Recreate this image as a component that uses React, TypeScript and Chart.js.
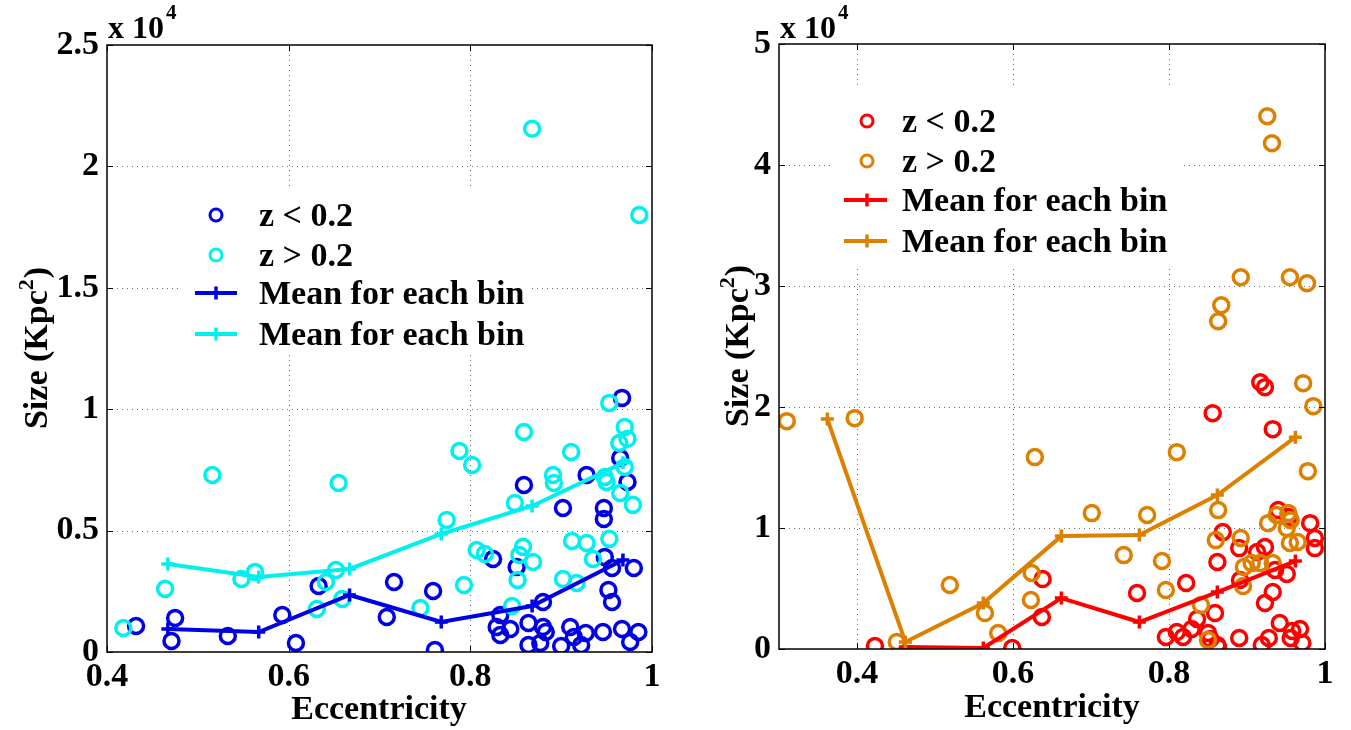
import React, { useEffect, useRef } from "react";
import { Chart, registerables } from "chart.js";

Chart.register(...registerables);

const FONT = '"Liberation Serif", "Times New Roman", serif';

// ---- Left panel: eccentricity vs. size ----
const leftLowX = [0.432, 0.475, 0.471, 0.533, 0.593, 0.608, 0.633, 0.967, 0.965, 0.973, 0.928, 0.859, 0.902, 0.947, 0.947, 0.825, 0.851, 0.948, 0.956, 0.98, 0.716, 0.759, 0.708, 0.952, 0.956, 0.88, 0.761, 0.833, 0.829, 0.844, 0.833, 0.864, 0.88, 0.883, 0.864, 0.877, 0.9, 0.91, 0.914, 0.927, 0.922, 0.946, 0.967, 0.976, 0.985];
const leftLowY = [1071, 1400, 453, 660, 1525, 370, 2720, 10465, 7990, 7000, 7290, 6880, 5930, 5930, 5480, 3830, 3500, 3910, 3460, 3460, 2885, 2513, 1442, 2554, 2060, 2060, 82, 1524, 1030, 947, 700, 1195, 1030, 824, 288, 370, 247, 1030, 618, 783, 288, 824, 947, 412, 824];
const leftHighX = [0.418, 0.464, 0.516, 0.548, 0.563, 0.631, 0.641, 0.652, 0.655, 0.659, 0.953, 0.859, 0.788, 0.802, 0.911, 0.97, 0.973, 0.964, 0.891, 0.892, 0.948, 0.95, 0.97, 0.965, 0.979, 0.849, 0.774, 0.807, 0.816, 0.858, 0.854, 0.869, 0.852, 0.912, 0.928, 0.935, 0.953, 0.902, 0.917, 0.793, 0.745, 0.846, 0.868, 0.986];
const leftHighY = [990, 2600, 7290, 3010, 3300, 1770, 2885, 3380, 6960, 2185, 10260, 9060, 8280, 7700, 8240, 9270, 8780, 8610, 7290, 6960, 7210, 7000, 7620, 6550, 6060, 6140, 5440, 4200, 4040, 4330, 4000, 3710, 2970, 4570, 4490, 3830, 4660, 3010, 2840, 2760, 1813, 1895, 21550, 18000];
const leftBinX = [0.467, 0.567, 0.667, 0.768, 0.868, 0.968];
const leftLowMean = [948, 824, 2348, 1236, 1895, 3790];
const leftHighMean = [3625, 3090, 3420, 4860, 6015, 7790];
const leftXTicks = [0.4, 0.6, 0.8, 1];
const leftYTicks = [0, 5000, 10000, 15000, 20000, 25000];

// ---- Right panel ----
const rightLowX = [0.423, 0.599, 0.638, 0.637, 0.856, 0.933, 0.917, 0.923, 0.869, 0.89, 0.913, 0.923, 0.94, 0.953, 0.981, 0.987, 0.987, 0.862, 0.891, 0.951, 0.936, 0.933, 0.923, 0.759, 0.822, 0.836, 0.859, 0.796, 0.81, 0.818, 0.829, 0.85, 0.853, 0.862, 0.863, 0.89, 0.919, 0.928, 0.942, 0.958, 0.968, 0.956, 0.971];
const rightLowY = [250, 80, 5780, 2640, 19490, 18170, 22050, 21640, 9660, 8340, 8010, 8430, 11480, 10900, 10400, 9170, 8340, 7190, 5700, 6200, 6530, 4710, 3800, 4630, 5450, 2480, 2970, 990, 1400, 990, 1650, 1320, 830, 330, 150, 910, 330, 910, 2150, 1490, 1650, 910, 500];
const rightHighX = [0.31, 0.397, 0.628, 0.519, 0.451, 0.564, 0.581, 0.624, 0.623, 0.81, 0.978, 0.985, 0.972, 0.701, 0.772, 0.863, 0.742, 0.791, 0.796, 0.86, 0.892, 0.841, 0.85, 0.895, 0.896, 0.906, 0.917, 0.933, 0.927, 0.938, 0.953, 0.951, 0.955, 0.965, 0.956, 0.926, 0.932, 0.892, 0.955, 0.977, 0.867, 0.863];
const rightHighY = [18830, 19080, 15860, 5290, 580, 2970, 1320, 6280, 4050, 16270, 14700, 20070, 21970, 11230, 11070, 11480, 7760, 7270, 4870, 9000, 9170, 3630, 740, 5200, 6770, 7100, 7100, 7100, 10400, 11070, 11230, 9990, 8760, 8840, 10650, 44030, 41800, 30730, 30730, 30230, 28410, 27090];
const rightLowBinX = [0.462, 0.562, 0.662, 0.762, 0.862, 0.962];
const rightLowMean = [170, 80, 4210, 2230, 4710, 7270];
const rightHighBinX = [0.362, 0.462, 0.562, 0.662, 0.762, 0.862, 0.962];
const rightHighMean = [19000, 580, 3800, 9330, 9420, 12720, 17510];
const rightXTicks = [0.4, 0.6, 0.8, 1];
const rightYTicks = [0, 10000, 20000, 30000, 40000, 50000];

const legendLabels = ["z < 0.2", "z > 0.2", "Mean for each bin", "Mean for each bin"];

const BLUE = "#0000E6";
const CYAN = "#00F0F0";
const RED = "#FF0000";
const ORANGE = "#DD8000";

const pts = (xs: number[], ys: number[]) => xs.map((x, i) => ({ x, y: ys[i] }));

function scatterSet(label: string, xs: number[], ys: number[], color: string) {
  return {
    label,
    data: pts(xs, ys),
    showLine: false,
    pointStyle: "circle",
    pointRadius: 7.5,
    pointHoverRadius: 7.5,
    pointBorderWidth: 3.5,
    pointBorderColor: color,
    pointBackgroundColor: "rgba(0,0,0,0)",
    borderColor: color,
  };
}

function meanSet(label: string, xs: number[], ys: number[], color: string) {
  return {
    label,
    data: pts(xs, ys),
    showLine: true,
    borderColor: color,
    borderWidth: 4,
    pointStyle: "cross",
    pointRadius: 6.5,
    pointHoverRadius: 6.5,
    pointBorderWidth: 3.5,
    pointBorderColor: color,
    pointBackgroundColor: color,
  };
}

type Spec = {
  width: number;
  height: number;
  area: { left: number; top: number; right: number; bottom: number };
  xMin: number;
  xMax: number;
  xTicks: number[];
  yMax: number;
  yTicks: number[];
  colors: string[];
  datasets: any[];
  legend: { x: number; y: number; w: number; h: number; rows: number[]; markerX: number; lineX1: number; lineX2: number; textX: number };
  yTitle: { x: number; y: number };
  xTitle: { x: number; y: number };
  expo: { x: number; y: number };
};

const leftSpec: Spec = {
  width: 690,
  height: 730,
  area: { left: 107, top: 45, right: 652, bottom: 652 },
  xMin: 0.4,
  xMax: 1,
  xTicks: leftXTicks,
  yMax: 25000,
  yTicks: leftYTicks,
  colors: [BLUE, CYAN],
  datasets: [
    meanSet("Mean for each bin", leftBinX, leftHighMean, CYAN),
    meanSet("Mean for each bin", leftBinX, leftLowMean, BLUE),
    scatterSet("z > 0.2", leftHighX, leftHighY, CYAN),
    scatterSet("z < 0.2", leftLowX, leftLowY, BLUE),
  ],
  legend: { x: 182, y: 186, w: 350, h: 169, rows: [215, 255, 293, 334], markerX: 216, lineX1: 195, lineX2: 237, textX: 259 },
  yTitle: { x: 47, y: 348 },
  xTitle: { x: 379, y: 719 },
  expo: { x: 108, y: 38 },
};

const rightSpec: Spec = {
  width: 661,
  height: 730,
  area: { left: 89, top: 44, right: 635, bottom: 649 },
  xMin: 0.3,
  xMax: 1,
  xTicks: rightXTicks,
  yMax: 50000,
  yTicks: rightYTicks,
  colors: [RED, ORANGE],
  datasets: [
    meanSet("Mean for each bin", rightHighBinX, rightHighMean, ORANGE),
    meanSet("Mean for each bin", rightLowBinX, rightLowMean, RED),
    scatterSet("z > 0.2", rightHighX, rightHighY, ORANGE),
    scatterSet("z < 0.2", rightLowX, rightLowY, RED),
  ],
  legend: { x: 141, y: 89, w: 353, h: 177, rows: [121, 161, 200, 241], markerX: 177, lineX1: 154, lineX2: 197, textX: 212 },
  yTitle: { x: 58, y: 346 },
  xTitle: { x: 362, y: 717 },
  expo: { x: 90, y: 38 },
};

function decorations(spec: Spec) {
  return {
    id: "decorations",
    beforeDatasetsDraw(chart: any) {
      const { ctx, chartArea: a, scales } = chart;
      const xs = scales.x;
      const ys = scales.y;
      ctx.save();
      ctx.strokeStyle = "#6e6e6e";
      ctx.lineWidth = 1;
      ctx.setLineDash([1, 4]);
      for (const v of spec.xTicks) {
        const px = Math.round(xs.getPixelForValue(v)) + 0.5;
        if (px <= a.left + 2 || px >= a.right - 2) continue;
        ctx.beginPath();
        ctx.moveTo(px, a.top);
        ctx.lineTo(px, a.bottom);
        ctx.stroke();
      }
      for (const v of spec.yTicks) {
        const py = Math.round(ys.getPixelForValue(v)) + 0.5;
        if (py <= a.top + 2 || py >= a.bottom - 2) continue;
        ctx.beginPath();
        ctx.moveTo(a.left, py);
        ctx.lineTo(a.right, py);
        ctx.stroke();
      }
      ctx.restore();
    },
    afterDatasetsDraw(chart: any) {
      const { ctx, chartArea: a, scales } = chart;
      const xs = scales.x;
      const ys = scales.y;
      ctx.save();

      // legend box
      const L = spec.legend;
      ctx.fillStyle = "#ffffff";
      ctx.fillRect(L.x, L.y, L.w, L.h);
      const [low, high] = spec.colors;
      const rowColors = [low, high, low, high];
      L.rows.forEach((ry, i) => {
        const c = rowColors[i];
        ctx.strokeStyle = c;
        if (i < 2) {
          ctx.lineWidth = 3;
          ctx.beginPath();
          ctx.arc(L.markerX, ry, 6, 0, Math.PI * 2);
          ctx.stroke();
        } else {
          ctx.lineWidth = 4;
          ctx.beginPath();
          ctx.moveTo(L.lineX1, ry);
          ctx.lineTo(L.lineX2, ry);
          ctx.stroke();
          ctx.lineWidth = 3.5;
          ctx.beginPath();
          ctx.moveTo(L.markerX, ry - 6.5);
          ctx.lineTo(L.markerX, ry + 6.5);
          ctx.stroke();
        }
        ctx.fillStyle = "#000";
        ctx.font = `bold 34px ${FONT}`;
        ctx.textAlign = "left";
        ctx.textBaseline = "alphabetic";
        ctx.fillText(legendLabels[i], L.textX, ry + 11);
      });

      // axes frame with inward ticks
      ctx.strokeStyle = "#000";
      ctx.lineWidth = 1.5;
      ctx.strokeRect(a.left, a.top, a.right - a.left, a.bottom - a.top);
      ctx.lineWidth = 1;
      const tl = 6;
      for (const v of spec.xTicks) {
        const px = Math.round(xs.getPixelForValue(v)) + 0.5;
        ctx.beginPath();
        ctx.moveTo(px, a.bottom);
        ctx.lineTo(px, a.bottom - tl);
        ctx.moveTo(px, a.top);
        ctx.lineTo(px, a.top + tl);
        ctx.stroke();
      }
      for (const v of spec.yTicks) {
        const py = Math.round(ys.getPixelForValue(v)) + 0.5;
        ctx.beginPath();
        ctx.moveTo(a.left, py);
        ctx.lineTo(a.left + tl, py);
        ctx.moveTo(a.right, py);
        ctx.lineTo(a.right - tl, py);
        ctx.stroke();
      }

      // exponent marker above the y axis
      ctx.fillStyle = "#000";
      ctx.textAlign = "left";
      ctx.textBaseline = "alphabetic";
      ctx.font = `bold 32px ${FONT}`;
      ctx.fillText("x 10", spec.expo.x, spec.expo.y);
      const ew = ctx.measureText("x 10").width;
      ctx.font = `bold 21px ${FONT}`;
      ctx.fillText("4", spec.expo.x + ew + 2, spec.expo.y - 19);

      // x axis title
      ctx.font = `bold 34px ${FONT}`;
      ctx.textAlign = "center";
      ctx.fillText("Eccentricity", spec.xTitle.x, spec.xTitle.y);

      // y axis title (rotated), with superscript 2
      ctx.translate(spec.yTitle.x, spec.yTitle.y);
      ctx.rotate(-Math.PI / 2);
      ctx.textAlign = "left";
      ctx.font = `bold 34px ${FONT}`;
      const p1 = "Size (Kpc";
      const p3 = ")";
      const w1 = ctx.measureText(p1).width;
      const w3 = ctx.measureText(p3).width;
      ctx.font = `bold 22px ${FONT}`;
      const w2 = ctx.measureText("2").width;
      const total = w1 + w2 + 1 + w3;
      let u = -total / 2;
      ctx.font = `bold 34px ${FONT}`;
      ctx.fillText(p1, u, 0);
      u += w1;
      ctx.font = `bold 22px ${FONT}`;
      ctx.fillText("2", u, -14);
      u += w2 + 1;
      ctx.font = `bold 34px ${FONT}`;
      ctx.fillText(p3, u, 0);

      ctx.restore();
    },
  };
}

function buildChart(canvas: HTMLCanvasElement, spec: Spec) {
  const tickFont = { family: FONT, size: 34, weight: "bold" as const };
  return new Chart(canvas, {
    type: "scatter",
    data: { datasets: spec.datasets },
    options: {
      responsive: false,
      animation: false,
      events: [],
      layout: {
        padding: { left: 0, top: spec.area.top, right: spec.width - spec.area.right, bottom: 0 },
      },
      plugins: { legend: { display: false }, tooltip: { enabled: false } },
      scales: {
        x: {
          type: "linear",
          min: spec.xMin,
          max: spec.xMax,
          afterBuildTicks: (s: any) => {
            s.ticks = spec.xTicks.map((v) => ({ value: v }));
          },
          afterFit: (s: any) => {
            s.height = spec.height - spec.area.bottom;
          },
          ticks: {
            font: tickFont,
            color: "#000",
            padding: 5,
            maxRotation: 0,
            autoSkip: false,
            callback: (v: any) => String(Math.round(Number(v) * 10) / 10),
          },
          grid: { display: false, drawTicks: false },
          border: { display: false },
        },
        y: {
          type: "linear",
          min: 0,
          max: spec.yMax,
          afterBuildTicks: (s: any) => {
            s.ticks = spec.yTicks.map((v) => ({ value: v }));
          },
          afterFit: (s: any) => {
            s.width = spec.area.left;
          },
          ticks: {
            font: tickFont,
            color: "#000",
            padding: 8,
            autoSkip: false,
            callback: (v: any) => String(Number(v) / 10000),
          },
          grid: { display: false, drawTicks: false },
          border: { display: false },
        },
      },
    } as any,
    plugins: [decorations(spec) as any],
  });
}

function Panel({ spec, left }: { spec: Spec; left: number }) {
  const ref = useRef<HTMLCanvasElement>(null);
  useEffect(() => {
    if (!ref.current) return;
    const chart = buildChart(ref.current, spec);
    return () => chart.destroy();
  }, [spec]);
  return (
    <canvas
      ref={ref}
      width={spec.width}
      height={spec.height}
      style={{ position: "absolute", left, top: 0, width: spec.width, height: spec.height }}
    />
  );
}

export default function App() {
  return (
    <div style={{ position: "fixed", left: 0, top: 0, width: 1351, height: 730, background: "#fff" }}>
      <Panel spec={leftSpec} left={0} />
      <Panel spec={rightSpec} left={690} />
    </div>
  );
}
